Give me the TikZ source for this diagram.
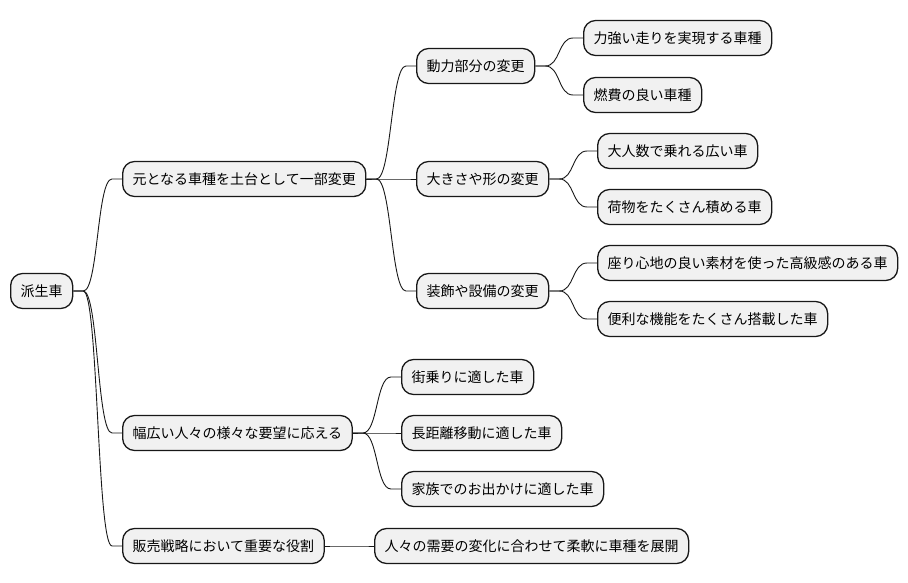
\documentclass[tikz,border=0pt]{standalone}
\usepackage{fontspec}
\setmainfont{Noto Sans CJK JP}
\usepackage{tikz}
\usepackage{xcolor}
\definecolor{boxfill}{HTML}{F1F1F1}
\definecolor{ink}{HTML}{181818}
\newcommand\branch[2]{\draw[link] (#1.east) -- ++(10,0) .. controls +(15,0) and +(-15,0) .. ([xshift=-10pt]#2.west) -- (#2.west);}

\begin{document}
\begin{tikzpicture}[x=1pt,y=-1pt,
  topic/.style={draw=ink,line width=1.3pt,fill=boxfill,rounded corners=12pt,anchor=west,
    inner xsep=10pt,inner ysep=2pt,minimum height=35pt,font=\fontsize{14pt}{16pt}\selectfont,text=black},
  link/.style={draw=ink,line width=0.9pt}]
\useasboundingbox (0,0) rectangle (908,583);
\node[topic] (root) at (10,291) {派生車};
\node[topic] (base) at (122,179) {元となる車種を土台として一部変更};
\node[topic] (needs) at (122,433) {幅広い人々の様々な要望に応える};
\node[topic] (sales) at (122,546) {販売戦略において重要な役割};
\node[topic] (power) at (416,66) {動力部分の変更};
\node[topic] (size) at (416,179) {大きさや形の変更};
\node[topic] (trim) at (416,291) {装飾や設備の変更};
\node[topic] (strong) at (583,38) {力強い走りを実現する車種};
\node[topic] (fuel) at (583,95) {燃費の良い車種};
\node[topic] (seats) at (597,151) {大人数で乗れる広い車};
\node[topic] (cargo) at (597,207) {荷物をたくさん積める車};
\node[topic] (luxury) at (597,263) {座り心地の良い素材を使った高級感のある車};
\node[topic] (gadget) at (597,319) {便利な機能をたくさん搭載した車};
\node[topic] (city) at (401,377) {街乗りに適した車};
\node[topic] (long) at (401,433) {長距離移動に適した車};
\node[topic] (family) at (401,489) {家族でのお出かけに適した車};
\node[topic] (lineup) at (374,546) {人々の需要の変化に合わせて柔軟に車種を展開};
\branch{root}{base}
\branch{root}{needs}
\branch{root}{sales}
\branch{base}{power}
\branch{base}{size}
\branch{base}{trim}
\branch{power}{strong}
\branch{power}{fuel}
\branch{size}{seats}
\branch{size}{cargo}
\branch{trim}{luxury}
\branch{trim}{gadget}
\branch{needs}{city}
\branch{needs}{long}
\branch{needs}{family}
\branch{sales}{lineup}
\end{tikzpicture}
\end{document}
